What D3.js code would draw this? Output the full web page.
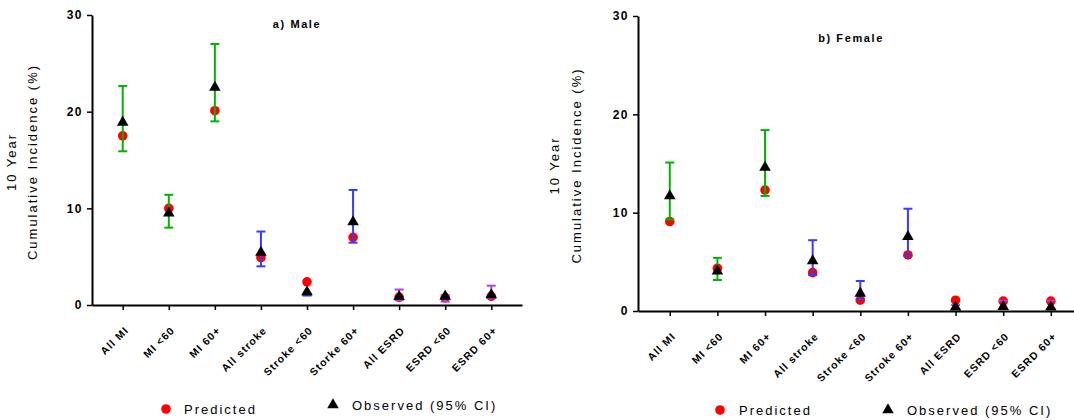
<!DOCTYPE html>
<html>
<head>
<meta charset="utf-8">
<script src="https://cdn.jsdelivr.net/npm/d3@7/dist/d3.min.js"></script>
<style>
  html, body { margin: 0; padding: 0; background: #fff; }
  svg { display: block; font-family: "Liberation Sans", Arial, sans-serif; }
</style>
</head>
<body>
<svg id="chart" width="1074" height="420"></svg>
<script>
// Outcome categories (x axis)
const categoriesMale = ["All MI", "MI <60", "MI 60+", "All stroke", "Stroke <60", "Storke 60+", "All ESRD", "ESRD <60", "ESRD 60+"];
const categoriesFemale = ["All MI", "MI <60", "MI 60+", "All stroke", "Stroke <60", "Stroke 60+", "All ESRD", "ESRD <60", "ESRD 60+"];
// Outcome group of each category, sets the CI colour
const outcomeGroup = ["MI", "MI", "MI", "Stroke", "Stroke", "Stroke", "ESRD", "ESRD", "ESRD"];

// 10 year cumulative incidence (%) - males
const predictedMale = [17.5, 10.0, 20.1, 4.9, 2.4, 7.0, 0.8, 0.75, 0.9];
const observedMale  = [18.9, 9.5, 22.5, 5.45, 1.35, 8.6, 0.85, 0.9, 1.05];
const lowerMale     = [15.9, 8.0, 19.0, 4.0, 1.0, 6.45, 0.5, 0.35, 0.7];
const upperMale     = [22.65, 11.4, 27.0, 7.6, 1.0, 11.9, 1.6, 1.0, 2.0];

// 10 year cumulative incidence (%) - females
const predictedFemale = [9.1, 4.35, 12.3, 3.9, 1.1, 5.7, 1.1, 1.0, 1.0];
const observedFemale  = [11.7, 4.05, 14.6, 5.1, 1.8, 7.55, 0.4, 0.45, 0.4];
const lowerFemale     = [9.3, 3.15, 11.7, 3.65, 1.25, 5.6, 0.2, 0.2, 0.2];
const upperFemale     = [15.1, 5.4, 18.4, 7.2, 3.05, 10.4, 0.6, 1.05, 1.05];

const yTicks = [0, 10, 20, 30];
const groupColor = { MI: "#00b400", Stroke: "#3a3aff", ESRD: "#b040e6" };

const svg = d3.select("#chart");

function drawPanel(p) {
  const x = d3.scalePoint().domain(p.categories).range(p.xRange).padding(0.667);
  const y = d3.scaleLinear().domain([0, 30]).range(p.yRange);
  const g = svg.append("g");

  // y axis
  const yAxis = g.append("g")
    .attr("transform", `translate(${p.xRange[0]},0)`)
    .call(d3.axisLeft(y).tickValues(yTicks).tickSize(5).tickPadding(4).tickSizeOuter(0));
  yAxis.select(".domain").attr("stroke", "#000").attr("stroke-width", 2);
  yAxis.selectAll(".tick line").attr("stroke", "#000").attr("stroke-width", 1.5);
  yAxis.selectAll(".tick text")
    .attr("fill", "#000").attr("font-size", 12).attr("font-weight", "bold")
    .attr("font-family", "Liberation Sans, Arial, sans-serif")
    .style("letter-spacing", "1.5px");

  // x axis
  const xAxis = g.append("g")
    .attr("transform", `translate(0,${p.yRange[0]})`)
    .call(d3.axisBottom(x).tickSize(5).tickSizeOuter(0));
  xAxis.select(".domain").attr("stroke", "#000").attr("stroke-width", 2);
  xAxis.selectAll(".tick line").attr("stroke", "#000").attr("stroke-width", 1.5);
  xAxis.selectAll(".tick text")
    .attr("fill", "#000").attr("font-size", 10.5).attr("font-weight", "bold")
    .attr("font-family", "Liberation Sans, Arial, sans-serif")
    .style("letter-spacing", "1.1px")
    .attr("text-anchor", "end")
    .attr("y", 0).attr("dy", 0)
    .attr("transform", "translate(6,26) rotate(-45)");

  // predicted points
  g.selectAll("circle.pred").data(p.predicted).join("circle")
    .attr("class", "pred")
    .attr("cx", (d, i) => x(p.categories[i]))
    .attr("cy", d => y(d))
    .attr("r", 4.8)
    .attr("fill", "#ff0000");

  // observed 95% CI bars
  const capHalf = 4.5;
  const ci = g.selectAll("g.ci").data(p.categories).join("g").attr("class", "ci")
    .attr("stroke", (d, i) => groupColor[outcomeGroup[i]])
    .attr("stroke-width", 2);
  ci.append("line")
    .attr("x1", d => x(d)).attr("x2", d => x(d))
    .attr("y1", (d, i) => y(p.lower[i])).attr("y2", (d, i) => y(p.upper[i]));
  ci.append("line")
    .attr("x1", d => x(d) - capHalf).attr("x2", d => x(d) + capHalf)
    .attr("y1", (d, i) => y(p.upper[i])).attr("y2", (d, i) => y(p.upper[i]));
  ci.append("line")
    .attr("x1", d => x(d) - capHalf).attr("x2", d => x(d) + capHalf)
    .attr("y1", (d, i) => y(p.lower[i])).attr("y2", (d, i) => y(p.lower[i]));

  // observed points
  const tri = d3.symbol().type(d3.symbolTriangle).size(58);
  g.selectAll("path.obs").data(p.observed).join("path")
    .attr("class", "obs")
    .attr("d", tri)
    .attr("transform", (d, i) => `translate(${x(p.categories[i])},${y(d)})`)
    .attr("fill", "#000");

  // panel title
  g.append("text")
    .attr("x", p.titleX).attr("y", p.titleY)
    .attr("text-anchor", "middle")
    .attr("font-size", 11).attr("font-weight", "bold")
    .style("letter-spacing", "1.6px")
    .text(p.title);

  // y axis title (two lines)
  const yMid = (p.yRange[0] + p.yRange[1]) / 2;
  p.yTitleX.forEach((tx, k) => {
    g.append("text")
      .attr("transform", `translate(${tx},${yMid + 2}) rotate(-90)`)
      .attr("text-anchor", "middle")
      .attr("font-size", 13)
      .style("letter-spacing", "2px")
      .text(["10 Year", "Cumulative Incidence (%)"][k]);
  });

  // legend
  const lg = g.append("g");
  lg.append("circle").attr("cx", p.legend[0]).attr("cy", p.legendY[0]).attr("r", 4.8).attr("fill", "#ff0000");
  lg.append("text").attr("x", p.legend[1]).attr("y", p.legendY[0] + 5)
    .attr("font-size", 13).style("letter-spacing", "2px").text("Predicted");
  lg.append("path").attr("d", tri)
    .attr("transform", `translate(${p.legend[2]},${p.legendY[1]})`).attr("fill", "#000");
  lg.append("text").attr("x", p.legend[3]).attr("y", p.legendY[1] + 5)
    .attr("font-size", 13).style("letter-spacing", "2px").text("Observed (95% CI)");
}

drawPanel({
  categories: categoriesMale,
  predicted: predictedMale, observed: observedMale, lower: lowerMale, upper: upperMale,
  xRange: [92, 522], yRange: [305, 15],
  title: "a) Male", titleX: 297, titleY: 28,
  yTitleX: [16, 37],
  legend: [166, 184, 333, 352], legendY: [409, 405]
});

drawPanel({
  categories: categoriesFemale,
  predicted: predictedFemale, observed: observedFemale, lower: lowerFemale, upper: upperFemale,
  xRange: [638, 1082.6], yRange: [311, 16],
  title: "b) Female", titleX: 851, titleY: 42,
  yTitleX: [559, 581],
  legend: [720, 739, 888, 907], legendY: [410, 410]
});
</script>
</body>
</html>
